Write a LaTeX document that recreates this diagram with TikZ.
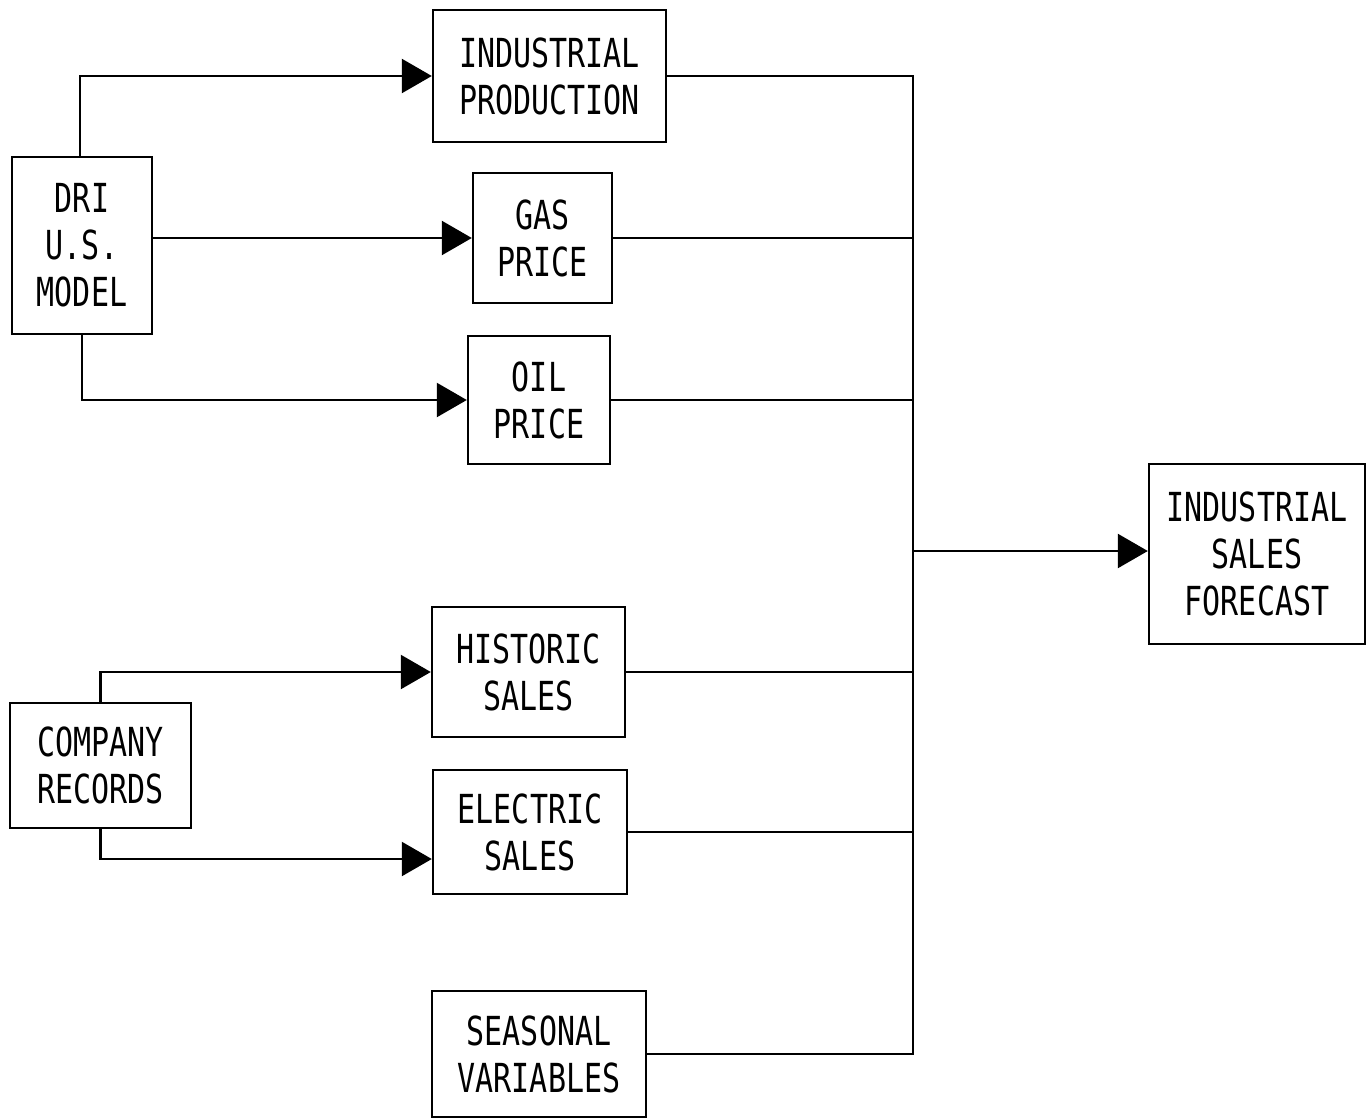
\documentclass[tikz,border=0pt]{standalone}
\usepackage{fontspec}
\newfontfamily\labfont[FakeStretch=0.75]{DejaVu Sans Mono}
\usetikzlibrary{arrows.meta}
\begin{document}
\begin{tikzpicture}[x=1pt,y=-1pt,
  box/.style={draw,line width=2.4pt,inner sep=0pt,align=center,
    font=\labfont\fontsize{40}{47}\selectfont},
  conn/.style={line width=2.4pt},
  arr/.style={conn,-{Triangle[length=30pt,width=34pt]}}]
\useasboundingbox (0,0) rectangle (1367,1119);
\node[box,minimum width=233pt,minimum height=132pt] (ip) at (549.5,76) {INDUSTRIAL\\PRODUCTION};
\node[box,minimum width=139pt,minimum height=130pt] (gas) at (542.5,238) {GAS\\PRICE};
\node[box,minimum width=142pt,minimum height=128pt] (oil) at (539,400) {OIL\\PRICE};
\node[box,minimum width=140pt,minimum height=177pt] (dri) at (82,245.5) {DRI\\U.S.\\MODEL};
\node[box,minimum width=193pt,minimum height=130pt] (hist) at (528.5,672) {HISTORIC\\SALES};
\node[box,minimum width=194pt,minimum height=124pt] (elec) at (530,832) {ELECTRIC\\SALES};
\node[box,minimum width=214pt,minimum height=126pt] (seas) at (539,1054) {SEASONAL\\VARIABLES};
\node[box,minimum width=181pt,minimum height=125pt] (comp) at (100.5,765.5) {COMPANY\\RECORDS};
\node[box,minimum width=216pt,minimum height=180pt] (fore) at (1257,554) {INDUSTRIAL\\SALES\\FORECAST};
\coordinate (bt) at (913,76);
\coordinate (bm) at (913,551);
\coordinate (ce) at (0,859);
\draw[arr] ([xshift=-2pt]dri.north) |- (ip.west);
\draw[arr] (dri.east |- gas.west) -- (gas.west);
\draw[arr] (dri.south) |- (oil.west);
\draw[arr] (comp.north) |- (hist.west);
\draw[arr] (comp.south) |- (elec.west |- ce);
\draw[conn] (ip.east) -- (ip.east -| bt) -- (seas.east -| bt) -- (seas.east);
\draw[conn] (gas.east) -- (gas.east -| bt);
\draw[conn] (oil.east) -- (oil.east -| bt);
\draw[conn] (hist.east) -- (hist.east -| bt);
\draw[conn] (elec.east) -- (elec.east -| bt);
\draw[arr] (bm) -- (fore.west |- bm);
\end{tikzpicture}
\end{document}
